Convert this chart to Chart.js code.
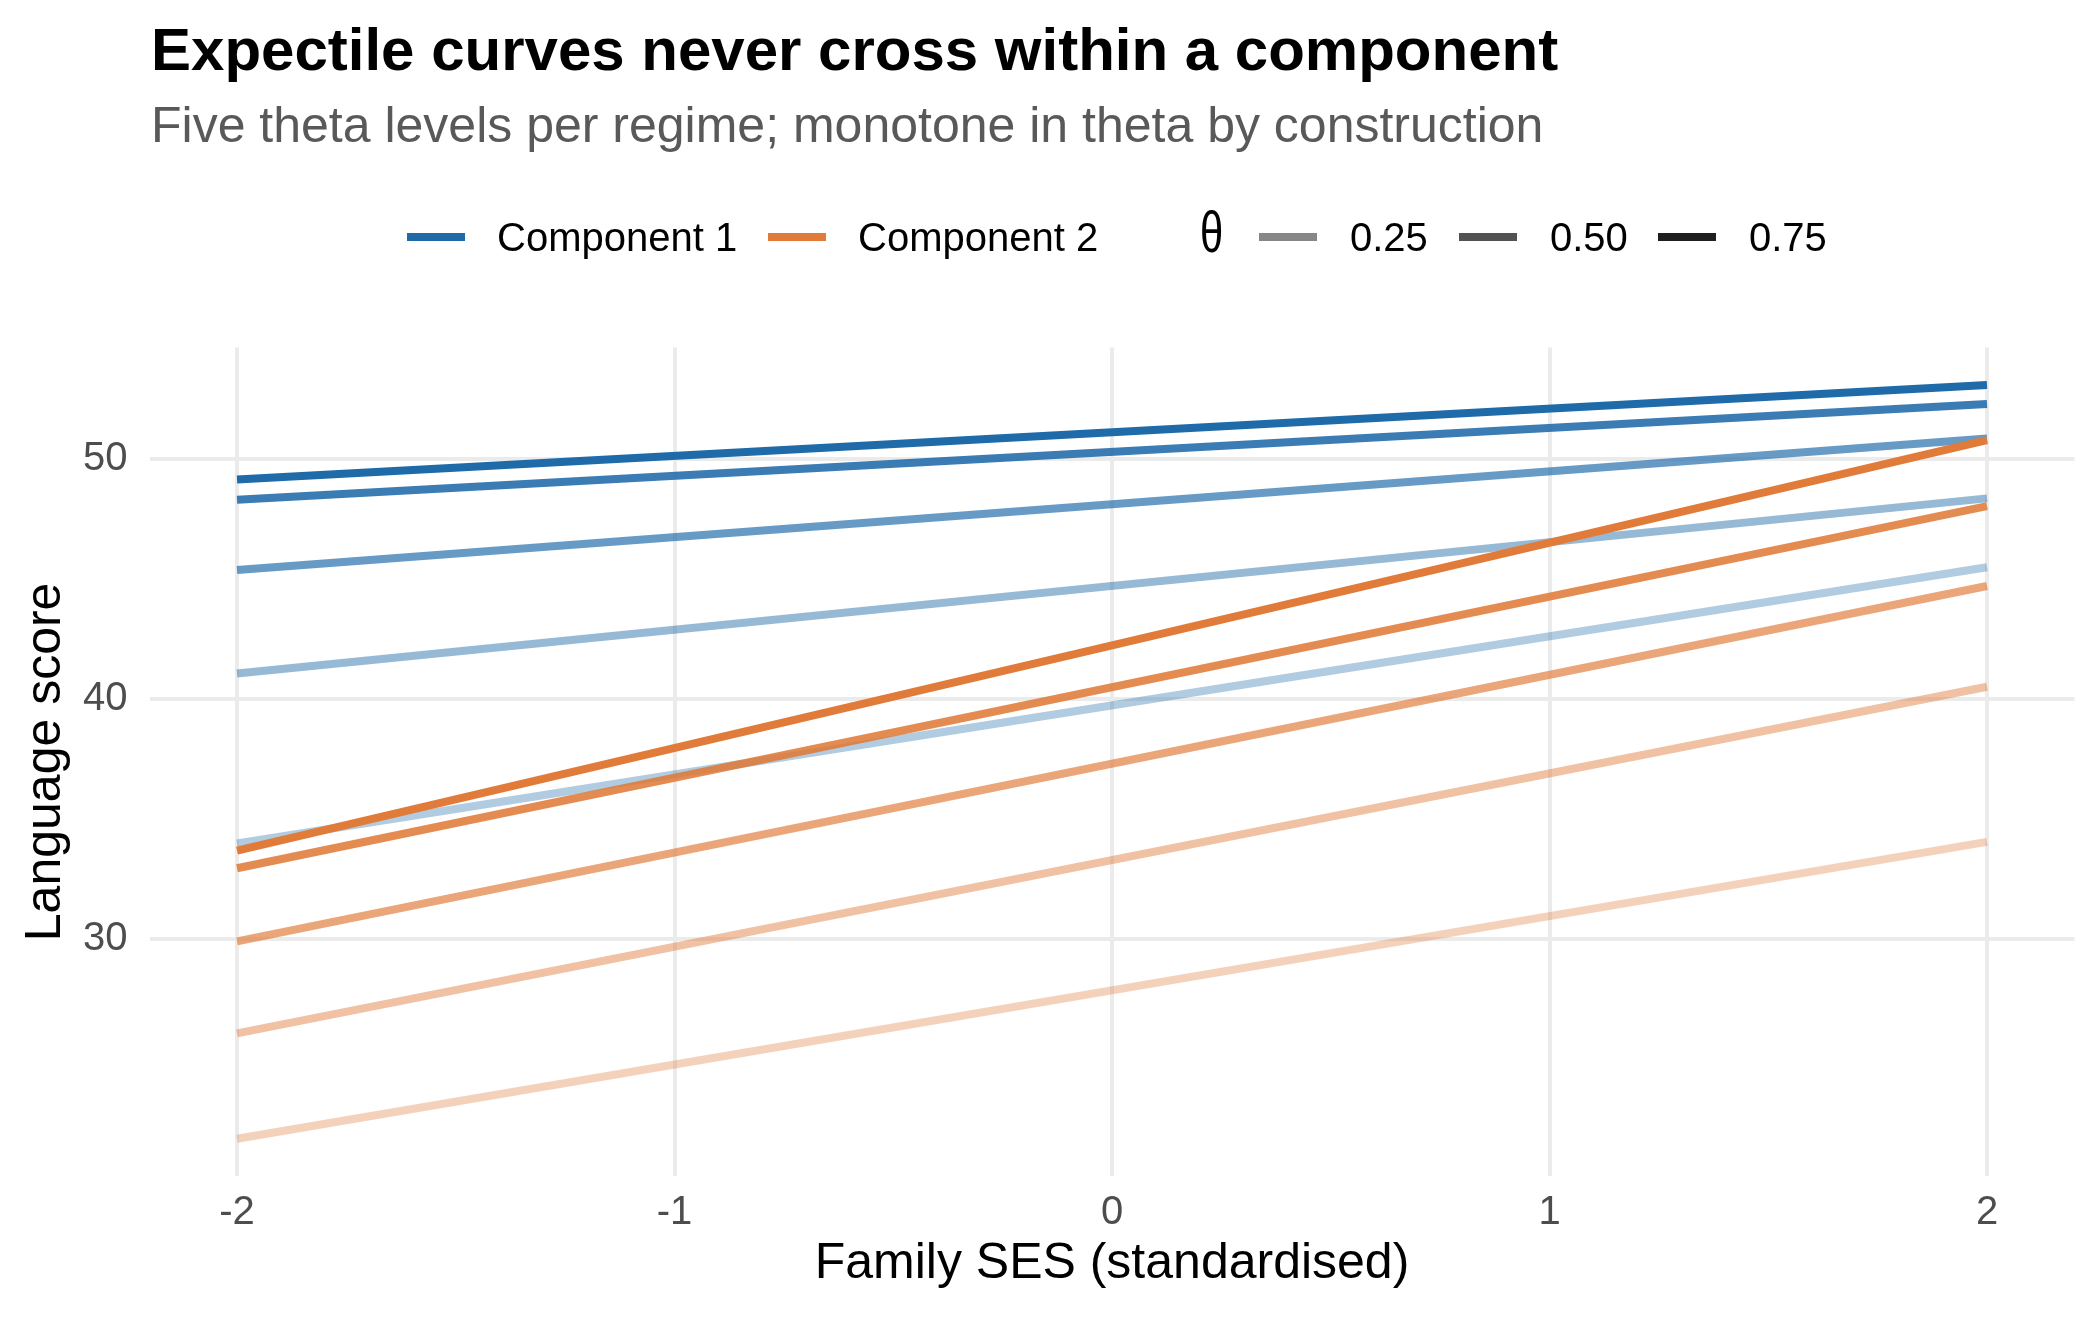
<!DOCTYPE html>
<html><head><meta charset="utf-8">
<script src="https://cdn.jsdelivr.net/npm/chart.js@4.4.1/dist/chart.umd.min.js"></script>
<style>html,body{margin:0;padding:0;background:#fff}#wrap{width:2100px;height:1320px;position:relative}</style>
</head><body><div id="wrap"><canvas id="c" width="2100" height="1320"></canvas></div>
<script>
// ---- data ----
const xEnds = [-2, 2];
const thetaLevels = [0.1, 0.25, 0.5, 0.75, 0.9];
const comp1Start = [33.98, 41.06, 45.38, 48.30, 49.15];
const comp1End   = [45.49, 48.36, 50.85, 52.29, 53.08];
const comp2Start = [21.68, 26.07, 29.90, 32.95, 33.68];
const comp2End   = [34.05, 40.51, 44.71, 48.04, 50.79];
const xTicks = [-2, -1, 0, 1, 2];
const yTicks = [30, 40, 50];
const legendThetas = ['0.25', '0.50', '0.75'];
const componentNames = ['Component 1', 'Component 2'];
const titleText = 'Expectile curves never cross within a component';
const subtitleText = 'Five theta levels per regime; monotone in theta by construction';
const xTitle = 'Family SES (standardised)';
const yTitle = 'Language score';

// ---- style ----
const FONT = "'Liberation Sans', Arial, Helvetica, sans-serif";
const compRGB = [[31,106,168],[224,123,57]];
const alphaForTheta = [0.35, 0.47, 0.68, 0.88, 1.0];
const legendAlpha = [0.47, 0.68, 0.88];
const LW = 8;

function rgba(c, a){ return `rgba(${c[0]},${c[1]},${c[2]},${a})`; }

const datasets = [];
const comps = [[comp1Start, comp1End], [comp2Start, comp2End]];
comps.forEach((cp, ci) => {
  thetaLevels.forEach((th, ti) => {
    datasets.push({
      label: componentNames[ci] + ' θ=' + th,
      data: xEnds.map((x, k) => ({x: x, y: k === 0 ? cp[0][ti] : cp[1][ti]})),
      borderColor: rgba(compRGB[ci], alphaForTheta[ti]),
      backgroundColor: rgba(compRGB[ci], alphaForTheta[ti]),
      borderWidth: LW,
      pointRadius: 0,
      borderCapStyle: 'butt',
      tension: 0,
      order: 100 - (ci * 10 + ti)
    });
  });
});

const overlay = {
  id: 'overlay',
  afterDraw(chart) {
    const ctx = chart.ctx;
    ctx.save();
    ctx.textBaseline = 'alphabetic';
    ctx.textAlign = 'left';
    // title
    ctx.fillStyle = '#000';
    ctx.font = `bold 60px ${FONT}`;
    ctx.fillText(titleText, 151, 70);
    // subtitle
    ctx.fillStyle = '#595959';
    ctx.font = `50px ${FONT}`;
    ctx.fillText(subtitleText, 151, 142);
    // legend
    const ky = 237;
    const drawKey = (x0, x1, color) => {
      ctx.strokeStyle = color; ctx.lineWidth = LW; ctx.lineCap = 'butt';
      ctx.beginPath(); ctx.moveTo(x0, ky); ctx.lineTo(x1, ky); ctx.stroke();
    };
    ctx.fillStyle = '#000';
    ctx.font = `40px ${FONT}`;
    drawKey(407, 465, rgba(compRGB[0], 1));
    ctx.fillText(componentNames[0], 497, 251);
    drawKey(768, 826, rgba(compRGB[1], 1));
    ctx.fillText(componentNames[1], 858, 251);
    ctx.save();
    ctx.translate(1200, 252);
    ctx.scale(0.72, 1);
    ctx.font = `58px ${FONT}`;
    ctx.fillText('θ', 0, 0);
    ctx.restore();
    ctx.font = `40px ${FONT}`;
    const kx = [1259, 1459, 1658];
    legendThetas.forEach((t, i) => {
      drawKey(kx[i], kx[i] + 58, `rgba(0,0,0,${legendAlpha[i]})`);
      ctx.fillText(t, kx[i] + 91, 251);
    });
    ctx.restore();
  }
};

new Chart(document.getElementById('c'), {
  type: 'line',
  data: { datasets },
  options: {
    responsive: false,
    devicePixelRatio: 1,
    animation: false,
    events: [],
    layout: { padding: { top: 347.4, right: 25.5, left: 0, bottom: 0 } },
    plugins: { legend: { display: false }, tooltip: { enabled: false }, title: { display: false } },
    scales: {
      x: {
        type: 'linear',
        min: -2.2, max: 2.2,
        afterBuildTicks: s => { s.ticks = xTicks.map(v => ({value: v})); },
        afterFit: s => { s.height = 143.6; },
        grid: { color: '#ebebeb', lineWidth: 4, drawTicks: false },
        border: { display: false },
        ticks: { color: '#4d4d4d', font: { family: FONT, size: 40 }, padding: 13, maxRotation: 0,
                 callback: v => String(v) },
        title: { display: true, text: xTitle, color: '#000', font: { family: FONT, size: 50 }, padding: { top: 0, bottom: 26 } }
      },
      y: {
        type: 'linear',
        min: 20.11, max: 54.65,
        afterBuildTicks: s => { s.ticks = yTicks.map(v => ({value: v})); },
        afterFit: s => { s.width = 149.5; },
        grid: { color: '#ebebeb', lineWidth: 4, drawTicks: false },
        border: { display: false },
        ticks: { color: '#4d4d4d', font: { family: FONT, size: 40 }, padding: 22,
                 callback: v => String(v) },
        title: { display: true, text: yTitle, color: '#000', font: { family: FONT, size: 50 }, padding: { top: 16, bottom: 0 } }
      }
    }
  },
  plugins: [overlay]
});
</script>
</body></html>
